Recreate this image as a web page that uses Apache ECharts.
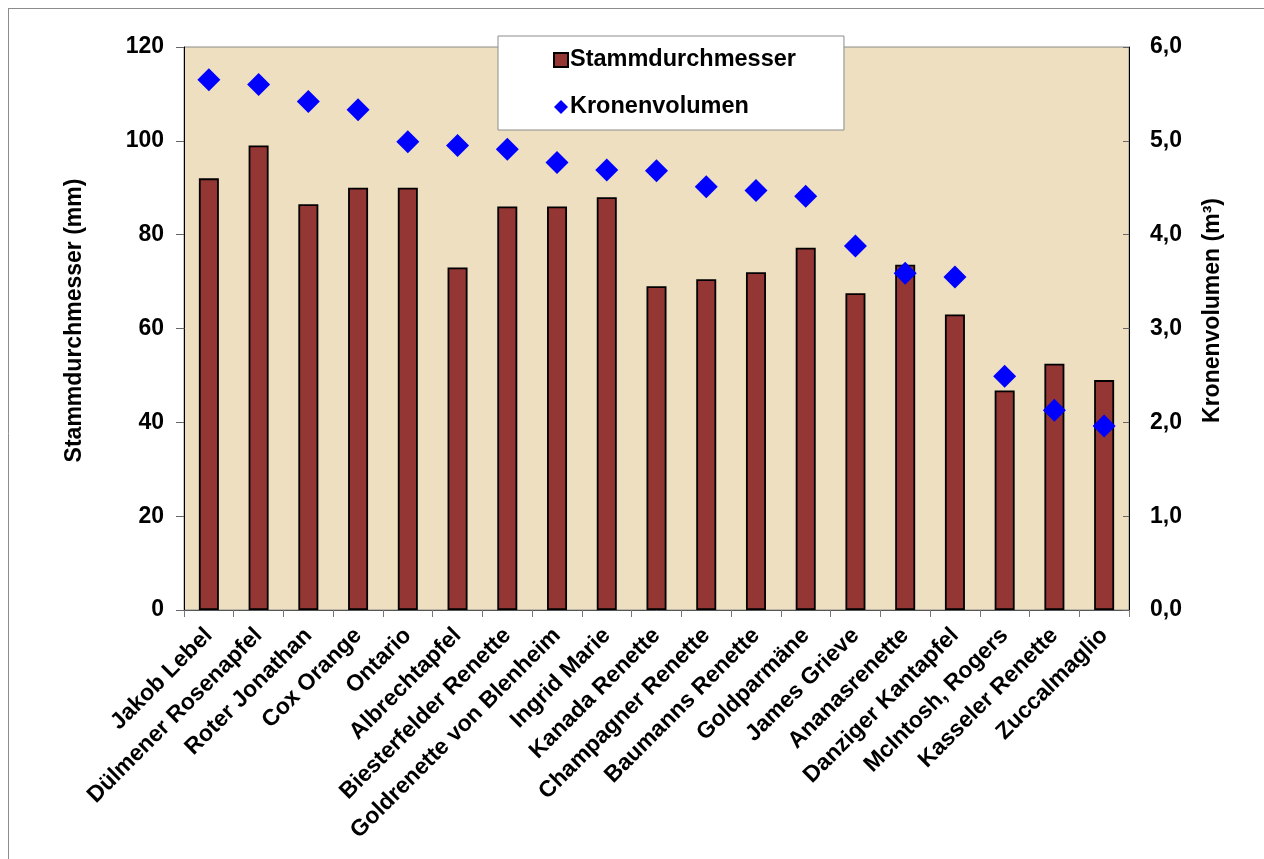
<!DOCTYPE html>
<html>
<head>
<meta charset="utf-8">
<title>Stammdurchmesser und Kronenvolumen</title>
<script src="https://cdn.jsdelivr.net/npm/echarts@6/dist/echarts.min.js"></script>
<style>
  html, body { margin: 0; padding: 0; background: #ffffff; }
  #chart { width: 1264px; height: 859px; }
</style>
</head>
<body>
<div id="chart"></div>
<script>
// Apple varieties, sorted by crown volume
const sorten = [
  'Jakob Lebel', 'Dülmener Rosenapfel', 'Roter Jonathan', 'Cox Orange', 'Ontario',
  'Albrechtapfel', 'Biesterfelder Renette', 'Goldrenette von Blenheim', 'Ingrid Marie',
  'Kanada Renette', 'Champagner Renette', 'Baumanns Renette', 'Goldparmäne',
  'James Grieve', 'Ananasrenette', 'Danziger Kantapfel', 'McIntosh, Rogers',
  'Kasseler Renette', 'Zuccalmaglio'
];

// Trunk diameter in mm (left axis)
const stammdurchmesser = [
  92, 99, 86.5, 90, 90, 73, 86, 86, 88, 69, 70.5, 72, 77.2, 67.5, 73.6, 63, 46.8, 52.5, 49
];

// Crown volume in m³ (right axis)
const kronenvolumen = [
  5.65, 5.60, 5.42, 5.33, 4.99, 4.95, 4.91, 4.77, 4.69, 4.68, 4.51, 4.47, 4.41,
  3.88, 3.59, 3.55, 2.49, 2.13, 1.96
];

const FONT = '"Liberation Sans", Arial, Helvetica, sans-serif';
const chart = echarts.init(document.getElementById('chart'), null, { renderer: 'canvas' });

const tickLabel = { fontFamily: FONT, fontWeight: 'bold', fontSize: 23, color: '#000' };

chart.setOption({
  animation: false,
  backgroundColor: '#ffffff',
  graphic: [
    // outer frame (left and top edges)
    { type: 'line', shape: { x1: 8.5, y1: 8, x2: 8.5, y2: 859 }, style: { stroke: '#8c8c8c', lineWidth: 1 }, silent: true },
    { type: 'line', shape: { x1: 8, y1: 8.5, x2: 1264, y2: 8.5 }, style: { stroke: '#8c8c8c', lineWidth: 1 }, silent: true }
  ],
  grid: {
    left: 184, right: 135, top: 47, bottom: 249,
    show: true,
    backgroundColor: '#eddfbf',
    borderColor: '#8c8c8c',
    borderWidth: 1
  },
  legend: {
    left: 498, top: 36,
    orient: 'vertical',
    backgroundColor: '#ffffff',
    borderColor: '#8c8c8c',
    borderWidth: 1,
    padding: [12, 48, 11, 55],
    itemGap: 23,
    itemWidth: 14,
    itemHeight: 14,
    textStyle: { fontFamily: FONT, fontWeight: 'bold', fontSize: 23.5, color: '#000', padding: [0, 0, 0, -3] },
    data: [
      { name: 'Stammdurchmesser', icon: 'rect' },
      { name: 'Kronenvolumen', icon: 'diamond' }
    ]
  },
  xAxis: {
    type: 'category',
    data: sorten,
    axisLine: { lineStyle: { color: '#555', width: 1 } },
    axisTick: { show: true, length: 7, lineStyle: { color: '#777' } },
    axisLabel: {
      interval: 0,
      rotate: 45,
      margin: 22,
      fontFamily: FONT, fontWeight: 'bold', fontSize: 23, color: '#000'
    }
  },
  yAxis: [
    {
      type: 'value',
      min: 0, max: 120, interval: 20,
      name: 'Stammdurchmesser (mm)',
      nameLocation: 'middle',
      nameGap: 98,
      nameTextStyle: { fontFamily: FONT, fontWeight: 'bold', fontSize: 23, color: '#000', padding: [0, 0, 0, 16] },
      axisLine: { show: true, lineStyle: { color: '#000', width: 1 } },
      axisTick: { show: true, length: 8, lineStyle: { color: '#666' } },
      axisLabel: Object.assign({ margin: 20 }, tickLabel),
      splitLine: { show: false }
    },
    {
      type: 'value',
      min: 0, max: 6, interval: 1,
      position: 'right',
      name: 'Kronenvolumen (m³)',
      nameLocation: 'middle',
      nameGap: 72,
      nameRotate: 90,
      nameTextStyle: { fontFamily: FONT, fontWeight: 'bold', fontSize: 23, color: '#000', padding: [0, 0, 0, 36] },
      axisLine: { show: true, lineStyle: { color: '#000', width: 1 } },
      axisTick: { show: true, length: 6, inside: true, lineStyle: { color: '#666' } },
      axisLabel: Object.assign({
        margin: 21,
        formatter: v => v.toFixed(1).replace('.', ',')
      }, tickLabel),
      splitLine: { show: false }
    }
  ],
  series: [
    {
      name: 'Stammdurchmesser',
      type: 'bar',
      yAxisIndex: 0,
      data: stammdurchmesser,
      barWidth: 20,
      itemStyle: { color: '#943634', borderColor: '#000', borderWidth: 1.8 },
      z: 2
    },
    {
      name: 'Kronenvolumen',
      type: 'scatter',
      yAxisIndex: 1,
      data: kronenvolumen,
      symbol: 'diamond',
      symbolSize: 23,
      itemStyle: { color: '#0000ff', opacity: 1 },
      z: 3
    }
  ]
});
</script>
</body>
</html>
